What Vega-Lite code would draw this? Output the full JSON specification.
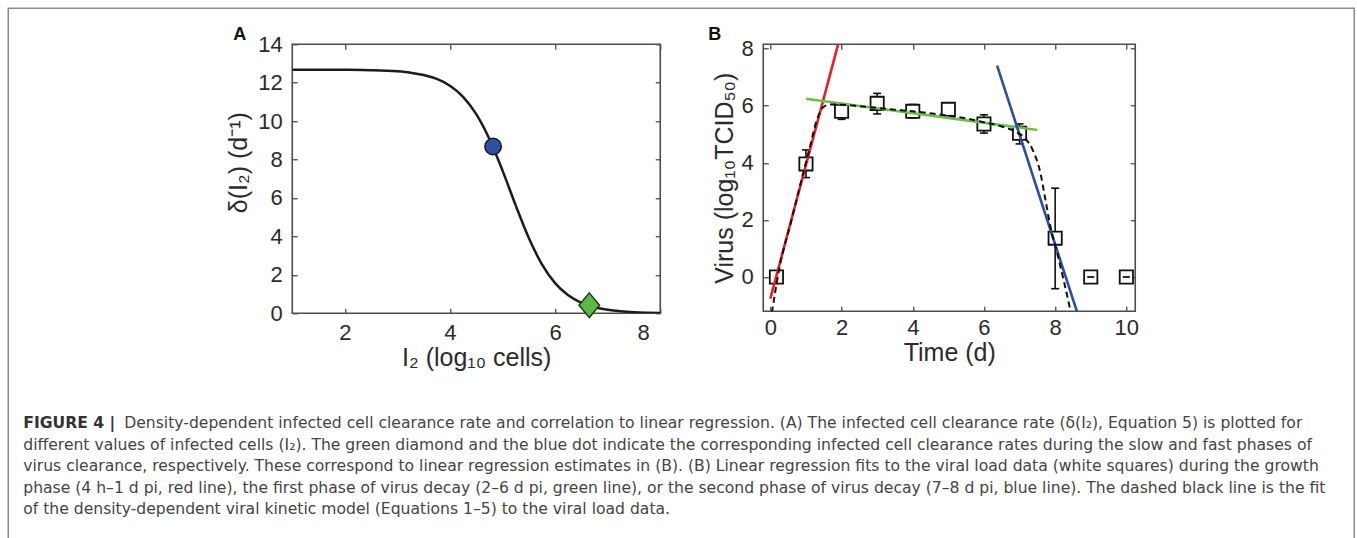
{
  "$schema": "https://vega.github.io/schema/vega-lite/v6.json",
  "autosize": {"type": "pad"},
  "padding": {"left": 7.25, "top": 7.25, "right": 0, "bottom": 0},
  "background": "white",
  "bounds": "flush",
  "spacing": 379,
  "config": {
    "view": {"stroke": "#4d4d4d", "strokeWidth": 1.6},
    "axis": {"grid": false, "domain": false, "labelFont": "Liberation Sans", "titleFont": "Liberation Sans", "labelFontSize": 22, "titleFontSize": 25, "titleFontWeight": "normal", "labelColor": "#2b2b2b", "titleColor": "#2b2b2b", "tickColor": "#4d4d4d", "tickSize": -5, "tickWidth": 1.3, "labelFlush": false},
    "title": {"font": "Liberation Sans", "fontSize": 18, "fontWeight": "bold", "color": "#111111", "anchor": "start", "frame": "group", "baseline": "alphabetic"}
  },
  "datasets": {
    "curve": [
      {"x": 1, "d": 12.679}, {"x": 1.5, "d": 12.677}, {"x": 2, "d": 12.671}, {"x": 2.5, "d": 12.652},
      {"x": 3, "d": 12.591}, {"x": 3.25, "d": 12.522}, {"x": 3.5, "d": 12.402}, {"x": 3.75, "d": 12.195},
      {"x": 4, "d": 11.842}, {"x": 4.25, "d": 11.262}, {"x": 4.5, "d": 10.36}, {"x": 4.75, "d": 9.069},
      {"x": 5, "d": 7.424}, {"x": 5.25, "d": 5.613}, {"x": 5.5, "d": 3.915}, {"x": 5.75, "d": 2.546},
      {"x": 6, "d": 1.569}, {"x": 6.25, "d": 0.933}, {"x": 6.5, "d": 0.542}, {"x": 6.75, "d": 0.311},
      {"x": 7, "d": 0.177}, {"x": 7.25, "d": 0.1}, {"x": 7.5, "d": 0.056}, {"x": 7.75, "d": 0.032}, {"x": 8, "d": 0.018}
    ],
    "virus": [
      {"t": 0.17, "v": 0, "lo": null, "hi": null},
      {"t": 1, "v": 3.96, "lo": 3.48, "hi": 4.45},
      {"t": 2, "v": 5.8, "lo": 5.52, "hi": 5.9},
      {"t": 3, "v": 6.08, "lo": 5.71, "hi": 6.43},
      {"t": 4, "v": 5.8, "lo": 5.57, "hi": 6.04},
      {"t": 5, "v": 5.87, "lo": 5.8, "hi": 5.95},
      {"t": 6, "v": 5.36, "lo": 5.04, "hi": 5.68},
      {"t": 7, "v": 5.03, "lo": 4.66, "hi": 5.36},
      {"t": 8, "v": 1.36, "lo": -0.41, "hi": 3.11},
      {"t": 9, "v": 0, "lo": 0, "hi": 0},
      {"t": 10, "v": 0, "lo": 0, "hi": 0}
    ],
    "fits": [
      {"series": "growth", "t": 0, "v": -0.755},
      {"series": "growth", "t": 2.0, "v": 8.6},
      {"series": "decay1", "t": 1.0, "v": 6.24},
      {"series": "decay1", "t": 7.5, "v": 5.15},
      {"series": "decay2", "t": 6.37, "v": 7.4},
      {"series": "decay2", "t": 8.75, "v": -1.74}
    ],
    "model": [
      {"t": 0.0, "v": -1.6}, {"t": 0.26, "v": 0.35}, {"t": 0.59, "v": 1.98}, {"t": 0.87, "v": 3.38},
      {"t": 1.11, "v": 4.55}, {"t": 1.3, "v": 5.48}, {"t": 1.48, "v": 5.94}, {"t": 1.67, "v": 6.04},
      {"t": 2.0, "v": 6.03}, {"t": 2.5, "v": 5.98}, {"t": 3, "v": 5.92}, {"t": 3.5, "v": 5.86},
      {"t": 4, "v": 5.8}, {"t": 4.5, "v": 5.73}, {"t": 5, "v": 5.65}, {"t": 5.5, "v": 5.55},
      {"t": 6, "v": 5.42}, {"t": 6.5, "v": 5.27}, {"t": 6.9, "v": 5.08}, {"t": 7.17, "v": 4.84},
      {"t": 7.35, "v": 4.5}, {"t": 7.59, "v": 3.62}, {"t": 7.73, "v": 2.68}, {"t": 7.87, "v": 1.75},
      {"t": 8.06, "v": 0.82}, {"t": 8.24, "v": -0.12}, {"t": 8.45, "v": -1.3}
    ],
    "caption": [
      {"line": 1, "part": "head", "text": "FIGURE 4 |"},
      {"line": 1, "part": "body", "text": "Density-dependent infected cell clearance rate and correlation to linear regression. (A) The infected cell clearance rate (δ(I₂), Equation 5) is plotted for"},
      {"line": 2, "part": "body", "text": "different values of infected cells (I₂). The green diamond and the blue dot indicate the corresponding infected cell clearance rates during the slow and fast phases of"},
      {"line": 3, "part": "body", "text": "virus clearance, respectively. These correspond to linear regression estimates in (B). (B) Linear regression fits to the viral load data (white squares) during the growth"},
      {"line": 4, "part": "body", "text": "phase (4 h–1 d pi, red line), the first phase of virus decay (2–6 d pi, green line), or the second phase of virus decay (7–8 d pi, blue line). The dashed black line is the fit"},
      {"line": 5, "part": "body", "text": "of the density-dependent viral kinetic model (Equations 1–5) to the viral load data."}
    ]
  },
  "vconcat": [
    {
      "bounds": "flush",
      "spacing": 103,
      "hconcat": [
        {
          "width": 368,
          "height": 269,
          "title": {"text": "A", "dx": -59, "offset": -11},
          "resolve": {"axis": {"x": "independent", "y": "independent"}},
          "layer": [
            {
              "data": {"name": "curve"},
              "mark": {"type": "line", "color": "#1c1c1c", "strokeWidth": 2.5, "interpolate": "monotone", "clip": true},
              "encoding": {
                "x": {"field": "x", "type": "quantitative", "scale": {"domain": [1, 8], "nice": false, "zero": false},
                      "axis": {"values": [2, 4, 6, 8], "title": "I₂ (log₁₀ cells)", "labelPadding": 14, "labelFlush": true, "labelFlushOffset": -11, "titlePadding": 2}},
                "y": {"field": "d", "type": "quantitative", "scale": {"domain": [0, 14], "nice": false},
                      "axis": {"values": [0, 2, 4, 6, 8, 10, 12, 14], "title": "δ(I₂) (d⁻¹)", "labelPadding": 15, "titlePadding": 6, "titleY": 118}}
              }
            },
            {
              "data": {"values": [{"x": 4.82, "d": 8.68, "phase": "fast"}]},
              "mark": {"type": "point", "shape": "circle", "filled": true, "fill": "#2f50a5", "stroke": "#1a1a1a", "strokeWidth": 1.5, "size": 270, "opacity": 1},
              "encoding": {
                "x": {"field": "x", "type": "quantitative", "axis": null},
                "y": {"field": "d", "type": "quantitative", "axis": null}
              }
            },
            {
              "data": {"values": [{"x": 6.65, "d": 0.42, "phase": "slow"}]},
              "mark": {"type": "point", "shape": "M0,-1.2L1,0L0,1.2L-1,0Z", "filled": true, "fill": "#5cb947", "stroke": "#1f3a1a", "strokeWidth": 1.5, "size": 420, "opacity": 1, "clip": false},
              "encoding": {
                "x": {"field": "x", "type": "quantitative", "axis": null},
                "y": {"field": "d", "type": "quantitative", "axis": null}
              }
            },
            {
              "data": {"name": "curve"},
              "mark": {"type": "point", "opacity": 0},
              "encoding": {
                "x": {"field": "x", "type": "quantitative", "axis": {"orient": "top", "values": [2, 4, 6, 8], "labels": false, "title": null}},
                "y": {"field": "d", "type": "quantitative", "axis": {"orient": "right", "values": [0, 2, 4, 6, 8, 10, 12, 14], "labels": false, "title": null}}
              }
            }
          ]
        },
        {
          "width": 372,
          "height": 267,
          "title": {"text": "B", "dx": -55, "offset": -6},
          "resolve": {"axis": {"x": "independent", "y": "independent"}},
          "layer": [
            {
              "data": {"name": "virus"},
              "transform": [{"filter": "datum.lo != null"}],
              "mark": {"type": "rule", "color": "#111111", "strokeWidth": 1.6},
              "encoding": {
                "x": {"field": "t", "type": "quantitative", "scale": {"domain": [-0.2, 10.25], "nice": false, "zero": false},
                      "axis": {"values": [0, 2, 4, 6, 8, 10], "title": "Time (d)", "labelPadding": 11, "titlePadding": 2}},
                "y": {"field": "lo", "type": "quantitative", "scale": {"domain": [-1.2, 8.15], "nice": false, "zero": false},
                      "axis": {"values": [0, 2, 4, 6, 8], "title": "Virus (log₁₀TCID₅₀)", "labelPadding": 15, "titlePadding": 4}},
                "y2": {"field": "hi"}
              }
            },
            {
              "data": {"name": "virus"},
              "transform": [{"filter": "datum.lo != null"}],
              "mark": {"type": "tick", "orient": "horizontal", "color": "#111111", "size": 8, "thickness": 1.6, "opacity": 1},
              "encoding": {
                "x": {"field": "t", "type": "quantitative", "axis": null},
                "y": {"field": "lo", "type": "quantitative", "axis": null}
              }
            },
            {
              "data": {"name": "virus"},
              "transform": [{"filter": "datum.hi != null"}],
              "mark": {"type": "tick", "orient": "horizontal", "color": "#111111", "size": 8, "thickness": 1.6, "opacity": 1},
              "encoding": {
                "x": {"field": "t", "type": "quantitative", "axis": null},
                "y": {"field": "hi", "type": "quantitative", "axis": null}
              }
            },
            {
              "data": {"name": "virus"},
              "mark": {"type": "point", "shape": "square", "filled": true, "fill": "white", "stroke": "#111111", "strokeWidth": 1.8, "size": 175, "opacity": 1},
              "encoding": {
                "x": {"field": "t", "type": "quantitative", "axis": null},
                "y": {"field": "v", "type": "quantitative", "axis": null}
              }
            },
            {
              "data": {"name": "virus"},
              "transform": [{"filter": "datum.lo != null && datum.lo == datum.hi"}],
              "mark": {"type": "tick", "orient": "horizontal", "color": "#111111", "size": 7, "thickness": 1.8, "opacity": 1},
              "encoding": {
                "x": {"field": "t", "type": "quantitative", "axis": null},
                "y": {"field": "v", "type": "quantitative", "axis": null}
              }
            },
            {
              "data": {"name": "fits"},
              "mark": {"type": "line", "strokeWidth": 2.6, "clip": true},
              "encoding": {
                "x": {"field": "t", "type": "quantitative", "axis": null},
                "y": {"field": "v", "type": "quantitative", "axis": null},
                "color": {"field": "series", "type": "nominal", "legend": null,
                          "scale": {"domain": ["growth", "decay1", "decay2"], "range": ["#ec1c24", "#6cc04a", "#2e4da0"]}}
              }
            },
            {
              "data": {"name": "model"},
              "mark": {"type": "line", "color": "#111111", "strokeWidth": 2, "strokeDash": [6, 4], "interpolate": "monotone", "clip": true},
              "encoding": {
                "x": {"field": "t", "type": "quantitative", "axis": null},
                "y": {"field": "v", "type": "quantitative", "axis": null}
              }
            },
            {
              "data": {"name": "model"},
              "mark": {"type": "point", "opacity": 0},
              "encoding": {
                "x": {"field": "t", "type": "quantitative", "axis": {"orient": "top", "values": [0, 2, 4, 6, 8, 10], "labels": false, "title": null}},
                "y": {"field": "v", "type": "quantitative", "axis": {"orient": "right", "values": [0, 2, 4, 6, 8], "labels": false, "title": null}}
              }
            }
          ]
        }
      ]
    },
    {
      "width": 1062,
      "height": 86,
      "view": {"stroke": null},
      "data": {"name": "caption"},
      "layer": [
        {
          "mark": {"type": "rect", "filled": false, "stroke": "#8c8c8c", "strokeWidth": 1.5, "clip": false},
          "transform": [{"filter": "datum.line == 1 && datum.part == 'head'"}],
          "encoding": {
            "x": {"value": -284},
            "x2": {"value": 1062},
            "y": {"value": -415},
            "y2": {"value": 150}
          }
        },
        {
          "transform": [{"filter": "datum.part == 'head'"}],
          "mark": {"type": "text", "align": "left", "baseline": "middle", "font": "DejaVu Sans", "fontSize": 15.6, "fontWeight": "bold", "color": "#333333"},
          "encoding": {
            "x": {"value": -269},
            "y": {"field": "line", "type": "ordinal", "scale": {"type": "point", "domain": [1, 2, 3, 4, 5], "padding": 0}, "axis": null},
            "text": {"field": "text"}
          }
        },
        {
          "transform": [{"filter": "datum.part == 'body' && datum.line == 1"}],
          "mark": {"type": "text", "align": "left", "baseline": "middle", "font": "DejaVu Sans", "fontSize": 15.6, "color": "#444444"},
          "encoding": {
            "x": {"value": -168},
            "y": {"field": "line", "type": "ordinal", "scale": {"type": "point", "domain": [1, 2, 3, 4, 5], "padding": 0}, "axis": null},
            "text": {"field": "text"}
          }
        },
        {
          "transform": [{"filter": "datum.line > 1"}],
          "mark": {"type": "text", "align": "left", "baseline": "middle", "font": "DejaVu Sans", "fontSize": 15.6, "color": "#444444"},
          "encoding": {
            "x": {"value": -269},
            "y": {"field": "line", "type": "ordinal", "scale": {"type": "point", "domain": [1, 2, 3, 4, 5], "padding": 0}, "axis": null},
            "text": {"field": "text"}
          }
        }
      ]
    }
  ]
}
